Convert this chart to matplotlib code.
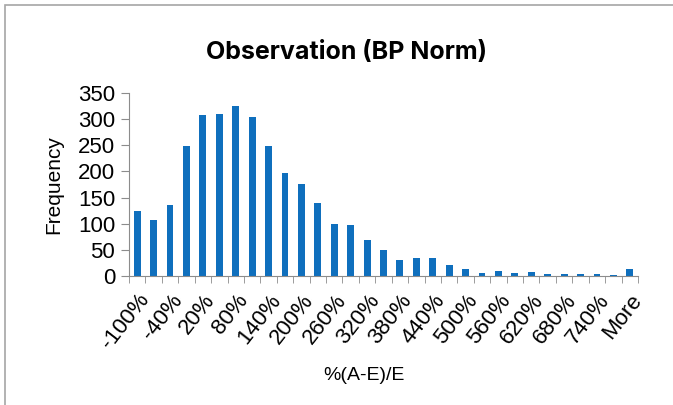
import numpy as np
import matplotlib.pyplot as plt
from matplotlib.patches import Rectangle

# bins: -100% .. 770% in steps of 30%, then "More"
bins = [f"{v}%" for v in range(-100, 800, 30)] + ["More"]
freq = [125, 107, 136, 248, 308, 310, 325, 304, 248, 197, 176, 139, 99, 98,
        69, 50, 31, 34, 34, 21, 13, 6, 9, 6, 7, 4, 3, 4, 4, 2, 13]

plt.rcParams['font.family'] = ['Liberation Sans', 'DejaVu Sans']

fig = plt.figure(figsize=(6.73, 4.05), dpi=100)
fig.patches.append(Rectangle((5 / 673, -0.1), 1.2, (400 / 405) + 0.1,
                             transform=fig.transFigure, fill=False,
                             edgecolor='#a6a6a6', linewidth=1.2))

ax = fig.add_axes([129 / 673, 1 - 276 / 405, (638 - 129) / 673, (276 - 93) / 405])
x = np.arange(len(bins))
ax.bar(x, freq, width=0.42, color='#0f6fbd')

ax.set_xlim(-0.5, len(bins) - 0.5)
ax.set_ylim(0, 350)
ax.set_yticks(range(0, 351, 50))
ax.tick_params(axis='y', labelsize=16, length=6, color='#8c8c8c', pad=4)

ax.set_xticks(x[::2])
ax.set_xticklabels(bins[::2], rotation=52, ha='right', rotation_mode='anchor',
                   fontsize=16)
ax.set_xticks(np.arange(-0.5, len(bins), 1), minor=True)
ax.tick_params(axis='x', which='major', length=0, pad=10)
ax.tick_params(axis='x', which='minor', length=5, color='#8c8c8c')

for s in ['top', 'right']:
    ax.spines[s].set_visible(False)
for s in ['left', 'bottom']:
    ax.spines[s].set_color('#8c8c8c')

ax.set_ylabel('Frequency', fontsize=15)
ax.yaxis.set_label_coords((63 - 129) / 509, 0.5)
fig.text(364 / 673, 1 - 376 / 405, '%(A-E)/E', ha='center', va='center', fontsize=14)
fig.text(347 / 673, 1 - 52 / 405, 'Observation (BP Norm)', ha='center', va='center',
         fontsize=18, fontweight='bold', family=['Inter', 'DejaVu Sans'])

fig.savefig('out.png', dpi=100)
